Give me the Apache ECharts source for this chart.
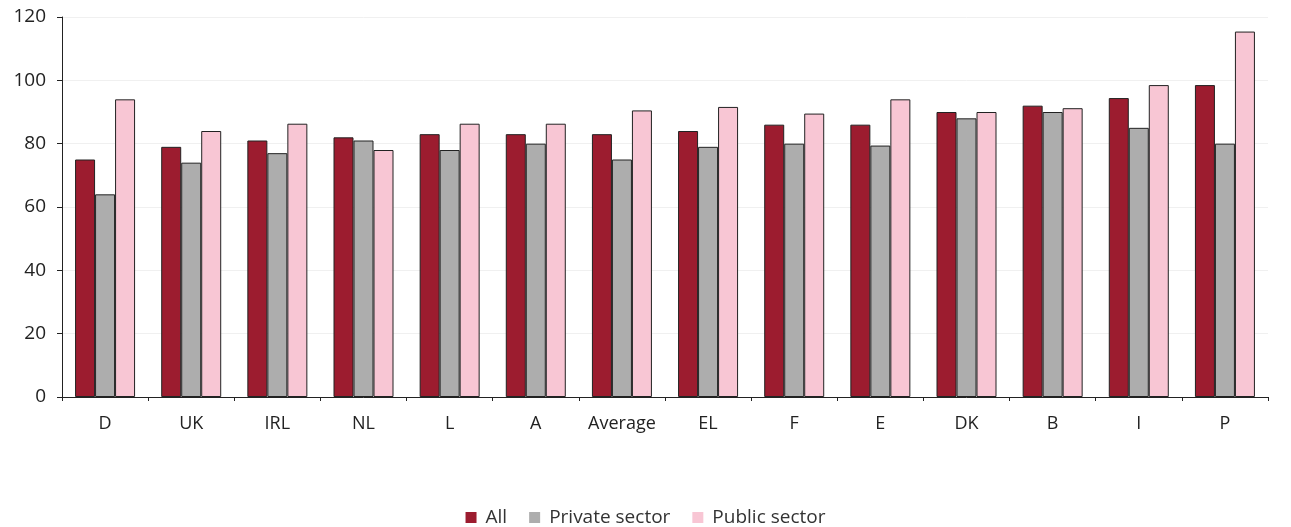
<!DOCTYPE html>
<html>
<head>
<meta charset="utf-8">
<script src="https://cdn.jsdelivr.net/npm/echarts@6/dist/echarts.min.js"></script>
<style>
html,body{margin:0;padding:0;background:#fff;}
#chart{width:1291px;height:527px;}
</style>
</head>
<body>
<div id="chart"></div>
<script>
const categories = ['D','UK','IRL','NL','L','A','Average','EL','F','E','DK','B','I','P'];
const allValues     = [75, 79, 81, 82, 83, 83, 83, 84, 86, 86, 90, 92, 94.4, 98.5];
const privateValues = [64, 74, 77, 81, 78, 80, 75, 79, 80, 79.4, 88, 90, 85, 80];
const publicValues  = [94, 84, 86.3, 78, 86.3, 86.3, 90.5, 91.6, 89.5, 94, 90, 91.2, 98.5, 115.4];
const yTicks = [0, 20, 40, 60, 80, 100, 120];

const chart = echarts.init(document.getElementById('chart'));
const font = '"Open Sans", Lato, sans-serif';
const barStyle = c => ({ color: c, borderColor: '#222', borderWidth: 1 });
chart.setOption({
  backgroundColor: '#ffffff',
  animation: false,
  textStyle: { fontFamily: font },
  grid: { left: 62, right: 23, top: 17, bottom: 130, containLabel: false },
  legend: {
    top: 503,
    left: 'center',
    itemWidth: 11, itemHeight: 11, itemGap: 22,
    icon: 'rect',
    itemStyle: { borderWidth: 0 },
    textStyle: { fontSize: 19, color: '#333', fontFamily: font, padding: [0, 0, 0, 4] },
    data: ['All', 'Private sector', 'Public sector']
  },
  xAxis: {
    type: 'category',
    data: categories,
    axisLine: { lineStyle: { color: '#222', width: 1 } },
    axisTick: { show: true, alignWithLabel: false, interval: 0, length: 4, lineStyle: { color: '#222' } },
    axisLabel: { interval: 0, fontSize: 18, color: '#222', margin: 18, fontFamily: font }
  },
  yAxis: {
    type: 'value',
    min: yTicks[0], max: yTicks[yTicks.length - 1], interval: 20,
    axisLine: { show: true, lineStyle: { color: '#222' } },
    axisTick: { show: true, length: 5, lineStyle: { color: '#222' } },
    axisLabel: { fontSize: 19, color: '#222', margin: 16, fontFamily: font },
    splitLine: { show: true, lineStyle: { color: '#f0f0f0' } }
  },
  series: [
    { name: 'All', type: 'bar', data: allValues, barWidth: 20, barGap: '0%', itemStyle: barStyle('#9c1c2f') },
    { name: 'Private sector', type: 'bar', data: privateValues, barWidth: 20, barGap: '0%', itemStyle: barStyle('#adadad') },
    { name: 'Public sector', type: 'bar', data: publicValues, barWidth: 20, barGap: '0%', itemStyle: barStyle('#f8c6d4') }
  ]
});
</script>
</body>
</html>
